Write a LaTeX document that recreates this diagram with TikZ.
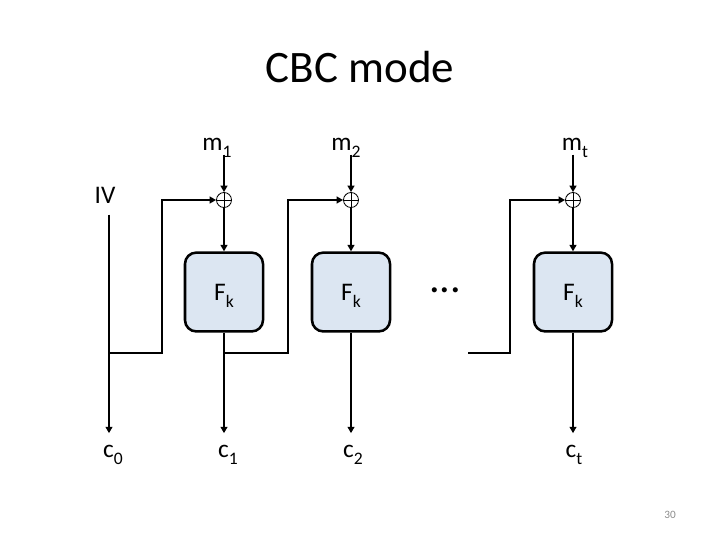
\documentclass[tikz,border=0pt]{standalone}
\usepackage{fontspec}
\setmainfont{Carlito}
\usetikzlibrary{positioning}
\usetikzlibrary{arrows.meta}
\definecolor{boxfill}{HTML}{DCE6F2}
\definecolor{pagegray}{HTML}{8C8C8C}
\newcommand{\lowsub}[1]{\raisebox{-5pt}[0pt][0pt]{\fontsize{12.5}{14}\selectfont #1}}
\tikzset{%
  tip/.style = {-{Triangle[length=1.6mm,width=1.7mm]}},
  thickline/.style = {line width=2pt},
  thinline/.style = {line width=1.3pt},
  fbox/.style = {rectangle,draw,line width=1.8pt,rounded corners=8pt,
        fill=boxfill,minimum width=1.95cm,minimum height=1.97cm,
        font=\fontsize{18}{22}\selectfont},
  xorc/.style = {circle,draw,line width=0.6pt,fill=white,inner sep=0pt,
        minimum size=0.375cm,
        path picture={\draw[line width=0.6pt]
          (path picture bounding box.north) -- (path picture bounding box.south)
          (path picture bounding box.west) -- (path picture bounding box.east);}},
  lbl/.style = {inner sep=0pt,font=\fontsize{18}{22}\selectfont},
  mlbl/.style = {lbl,inner ysep=3pt},
  clbl/.style = {lbl,inner ysep=8pt}
}
\begin{document}
\begin{tikzpicture}[x=0.025cm,y=-0.025cm]
   \useasboundingbox (0,0) rectangle (720,540);
   \node[anchor=base,font=\fontsize{32}{38}\selectfont] (title) at (360,82) {CBC mode};

   % block cipher boxes and xors
   \node[xorc] (x1) at (224,200) {};
   \node[xorc] (x2) at (351,200) {};
   \node[xorc] (x3) at (573,200) {};
   \node[fbox] (f1) at (224,292) {F\lowsub{k}};
   \node[fbox] (f2) at (351,292) {F\lowsub{k}};
   \node[fbox] (f3) at (573,292) {F\lowsub{k}};
   \node[anchor=base,font=\fontsize{30}{32}\selectfont] (dots) at (445,292) {...};

   % labels
   \node[mlbl,anchor=base] (m1) at (217,150) {m\lowsub{1}};
   \node[mlbl,anchor=base] (m2) at (346,150) {m\lowsub{2}};
   \node[mlbl,anchor=base] (mt) at (575,150) {m\lowsub{t}};
   \node[clbl,anchor=base] (iv) at (105,203) {IV};
   \node[clbl,anchor=base] (c0) at (113,457) {c\lowsub{0}};
   \node[clbl,anchor=base] (c1) at (228,457) {c\lowsub{1}};
   \node[clbl,anchor=base] (c2) at (353,457) {c\lowsub{2}};
   \node[clbl,anchor=base] (ct) at (574,457) {c\lowsub{t}};
   \node[anchor=base,font=\fontsize{8}{10}\selectfont,text=pagegray] (page) at (670,518) {30};

   \coordinate (s0) at (109,353);
   \coordinate (s1) at (224,353);
   \coordinate (s2) at (351,353);
   \coordinate (st) at (468,353);

   \draw[thickline,tip] (iv.south -| s0) -- (s0 |- c0.north);
   \draw[thickline,tip] (s0) -- ++(53,0) |- (x1);
   \draw[thickline,tip] (s1) -- ++(64,0) |- (x2);
   \draw[thickline,tip] (st) -- ++(42,0) |- (x3);

   \draw[thinline,tip] (m1.south -| x1) -- (x1);
   \draw[thinline,tip] (m2.south -| x2) -- (x2);
   \draw[thinline,tip] (mt.south -| x3) -- (x3);
   \draw[thinline,tip] (x1) -- (x1 |- f1.north);
   \draw[thinline,tip] (x2) -- (x2 |- f2.north);
   \draw[thinline,tip] (x3) -- (x3 |- f3.north);
   \draw[thinline,tip] (f1.south) -- (f1.south |- c1.north);
   \draw[thinline,tip] (f2.south) -- (f2.south |- c2.north);
   \draw[thinline,tip] (f3.south) -- (f3.south |- ct.north);
\end{tikzpicture}
\end{document}
